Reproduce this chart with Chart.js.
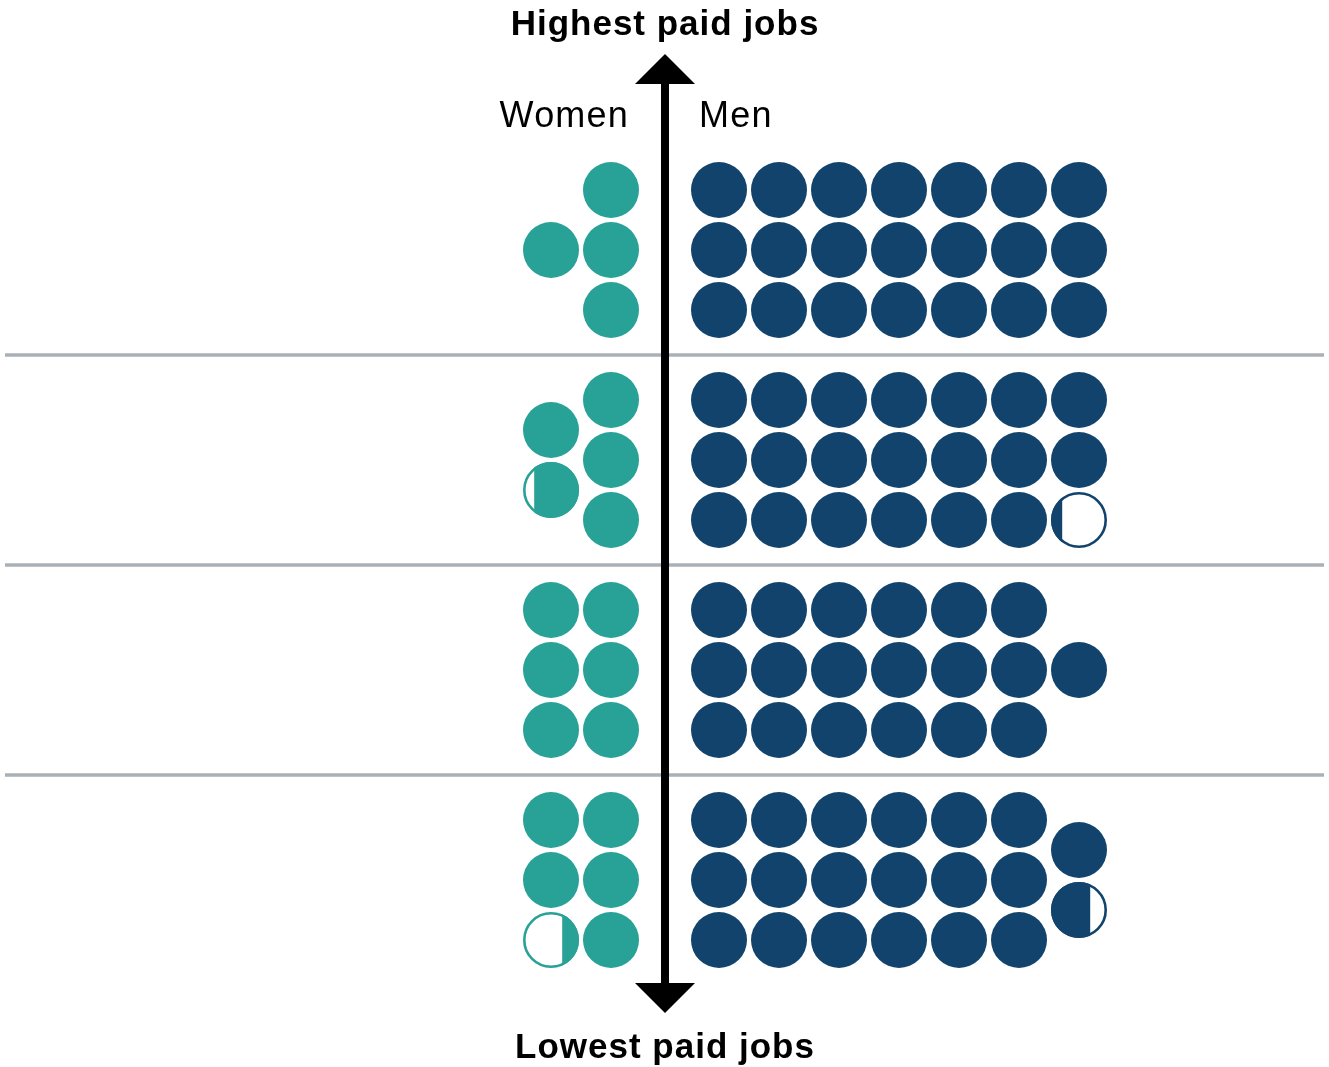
<!DOCTYPE html>
<html lang="en">
<head>
<meta charset="UTF-8">
<title>Highest and lowest paid jobs by sex</title>
<script src="https://cdn.jsdelivr.net/npm/chart.js"></script>
<style>
  body { margin: 0; background: #fff; }
  #box { width: 1329px; height: 1067px; }
</style>
</head>
<body>
<div id="box"><canvas id="grafico" width="1329" height="1067"></canvas></div>

<script>
// pay quartiles, from highest paid (top) to lowest paid (bottom)
// each quartile = 25 dots
var quartis = ['Upper', 'Upper middle', 'Lower middle', 'Lower'];
var mulheres = [4, 4.8, 6, 5.3];
var homens = [21, 20.2, 19, 19.7];

var corMulheres = '#28A197';
var corHomens = '#12436D';
var raio = 28;

// lado: -1 = left of the arrow (women), 1 = right (men)
// columns of 3 are filled outwards from the arrow, last column is centred
function montarPontos(valores, lado) {
    var pontos = [];
    for (var q = 0; q < valores.length; q++) {
        var v = valores[q];
        var slots = Math.ceil(v - 1e-9);
        for (var s = 0; s < slots; s++) {
            var col = Math.floor(s / 3);
            var naColuna = Math.min(3, slots - col * 3);
            var linha = s % 3;
            var desloc = linha - (naColuna - 1) / 2;
            pontos.push({
                x: lado * (0.9 + col),
                y: q * 3.5 + desloc,
                f: Math.min(1, v - s),
                lado: lado
            });
        }
    }
    return pontos;
}

function parcial(ctx) {
    return ctx.raw && ctx.raw.f < 0.999;
}

function conjunto(nome, valores, lado, cor) {
    return {
        label: nome,
        data: montarPontos(valores, lado),
        pointRadius: function (ctx) { return parcial(ctx) ? raio - 1.3 : raio; },
        pointHoverRadius: function (ctx) { return parcial(ctx) ? raio - 1.3 : raio; },
        pointBackgroundColor: function (ctx) { return parcial(ctx) ? '#ffffff' : cor; },
        pointBorderColor: cor,
        pointBorderWidth: function (ctx) { return parcial(ctx) ? 2.6 : 0; },
        cor: cor
    };
}

// fills the partial dots from the side facing the arrow
var pluginParcial = {
    id: 'parcial',
    afterDatasetsDraw: function (chart) {
        var ctx = chart.ctx;
        chart.data.datasets.forEach(function (ds, i) {
            var meta = chart.getDatasetMeta(i);
            meta.data.forEach(function (el, j) {
                var p = ds.data[j];
                if (p.f >= 0.999) return;
                var larg = p.f * raio * 2;
                var x0 = p.lado < 0 ? el.x + raio - larg : el.x - raio;
                ctx.save();
                ctx.beginPath();
                ctx.rect(x0, el.y - raio - 1, larg, raio * 2 + 2);
                ctx.clip();
                ctx.beginPath();
                ctx.arc(el.x, el.y, raio, 0, Math.PI * 2);
                ctx.fillStyle = ds.cor;
                ctx.fill();
                ctx.restore();
            });
        });
    }
};

// grey separators between quartiles, arrow and labels
var pluginEixo = {
    id: 'eixo',
    beforeDatasetsDraw: function (chart) {
        var ctx = chart.ctx;
        var y = chart.scales.y;
        ctx.save();
        ctx.strokeStyle = '#A9B0B6';
        ctx.lineWidth = 3.5;
        for (var i = 0; i < quartis.length - 1; i++) {
            var py = y.getPixelForValue(i * 3.5 + 1.75);
            ctx.beginPath();
            ctx.moveTo(5, py);
            ctx.lineTo(1324, py);
            ctx.stroke();
        }
        ctx.restore();
    },
    afterDraw: function (chart) {
        var ctx = chart.ctx;
        var cx = chart.scales.x.getPixelForValue(0);
        ctx.save();
        ctx.fillStyle = '#000';
        ctx.fillRect(cx - 4, 82, 8, 904);
        ctx.beginPath();
        ctx.moveTo(cx, 54);
        ctx.lineTo(cx + 30, 84);
        ctx.lineTo(cx - 30, 84);
        ctx.closePath();
        ctx.fill();
        ctx.beginPath();
        ctx.moveTo(cx, 1013);
        ctx.lineTo(cx + 30, 983);
        ctx.lineTo(cx - 30, 983);
        ctx.closePath();
        ctx.fill();

        ctx.textBaseline = 'alphabetic';
        ctx.font = 'bold 35px "Liberation Sans", Arial, sans-serif';
        ctx.letterSpacing = '1px';
        ctx.textAlign = 'center';
        ctx.fillText('Highest paid jobs', cx, 35);
        ctx.fillText('Lowest paid jobs', cx, 1058);

        ctx.font = '36px "Liberation Sans", Arial, sans-serif';
        ctx.letterSpacing = '1.2px';
        ctx.textAlign = 'right';
        ctx.fillText('Women', cx - 36, 127);
        ctx.textAlign = 'left';
        ctx.fillText('Men', cx + 34, 127);
        ctx.restore();
    }
};

var config = {
    type: 'scatter',
    data: {
        datasets: [
            conjunto('Women', mulheres, -1, corMulheres),
            conjunto('Men', homens, 1, corHomens)
        ]
    },
    options: {
        responsive: false,
        animation: false,
        events: [],
        layout: { padding: 0, autoPadding: false },
        plugins: {
            legend: { display: false },
            tooltip: { enabled: false }
        },
        scales: {
            // 1 unit = 60px, arrow at x = 0, top quartile centred at y = 0
            x: { type: 'linear', display: false, min: -665 / 60, max: 664 / 60 },
            y: { type: 'linear', display: false, reverse: true, min: -250 / 60, max: 817 / 60 }
        }
    },
    plugins: [pluginEixo, pluginParcial]
};

var grafico = new Chart(document.getElementById('grafico'), config);
</script>
</body>
</html>
